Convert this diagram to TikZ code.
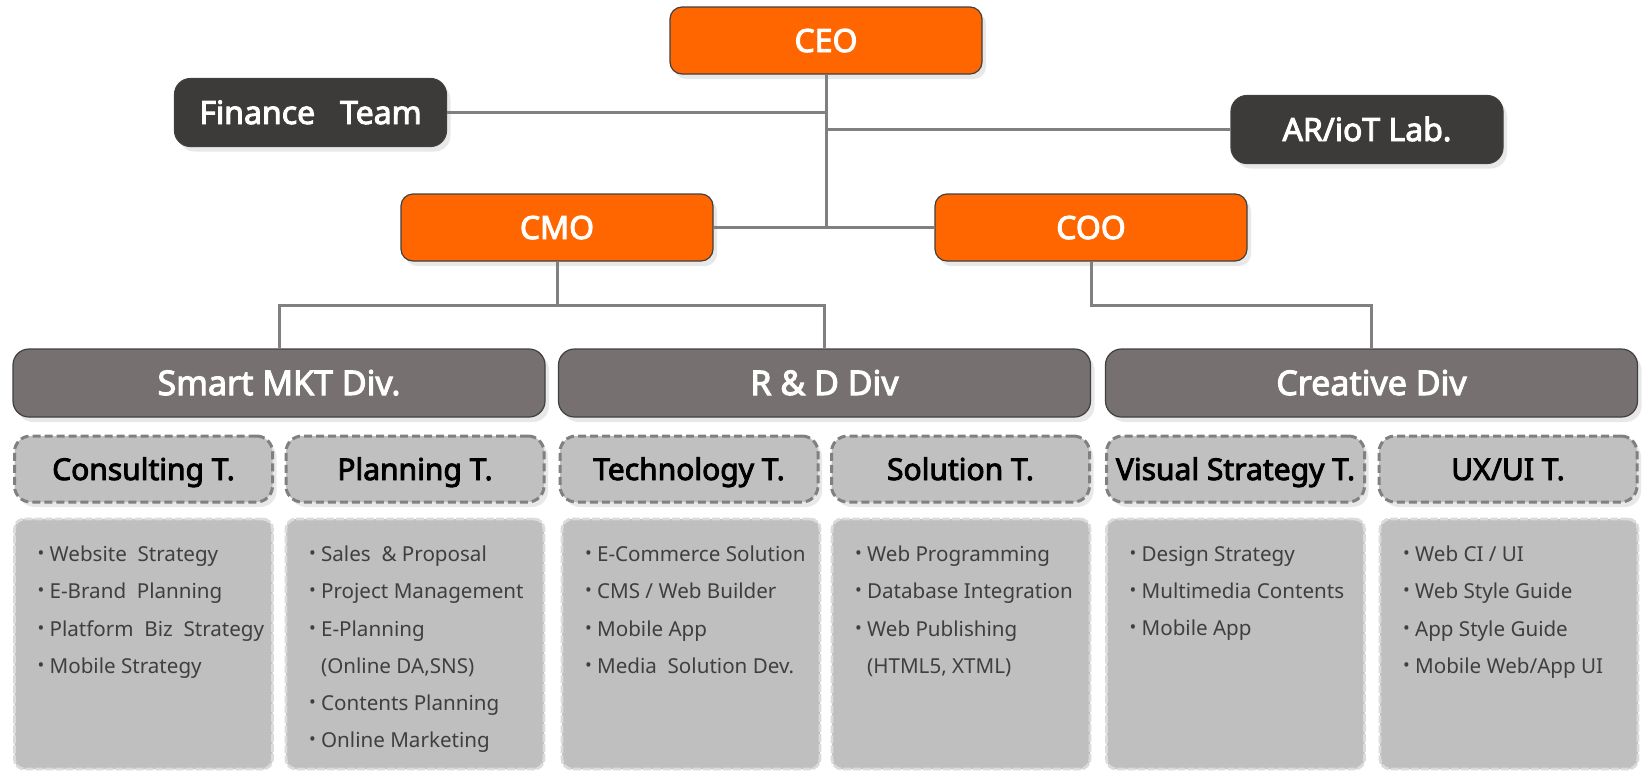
\documentclass[tikz,border=0pt]{standalone}
\usepackage{fontspec}
\setmainfont{Noto Sans}[BoldFont={Noto Sans},BoldFeatures={FakeBold=3}]
\usetikzlibrary{shadows}
\definecolor{orgfill}{HTML}{FF6600}
\definecolor{darkfill}{HTML}{3C3B39}
\definecolor{divfill}{HTML}{767170}
\definecolor{teamfill}{HTML}{C0C0C0}
\definecolor{listfill}{HTML}{BFBFBF}
\definecolor{linegray}{HTML}{808080}
\definecolor{edgegray}{HTML}{404040}
\definecolor{listtext}{HTML}{3F3F3F}
\newcommand{\itm}{{\fontsize{9}{9}\selectfont\raisebox{0.2ex}{\textbullet}}\ }

\begin{document}
\begin{tikzpicture}[x=0.5pt,y=-0.5pt,
    conn/.style={draw=linegray,line width=1.5pt},
    shade/.style={drop shadow={fill=black!9,opacity=1,shadow xshift=2pt,shadow yshift=-2.5pt}},
    boss/.style={draw=edgegray,line width=0.6pt,fill=orgfill,rounded corners=6pt,shade,
        text=white,font=\bfseries\fontsize{16}{19}\selectfont,minimum width=156pt,minimum height=33.5pt,
        text height=11.5pt,text depth=0pt},
    side/.style={draw=edgegray,line width=0.6pt,fill=darkfill,rounded corners=8pt,shade,
        text=white,font=\bfseries\fontsize{16}{19}\selectfont,minimum width=136pt,minimum height=34pt,
        text height=11.5pt,text depth=0pt},
    division/.style={draw=edgegray,line width=0.6pt,fill=divfill,rounded corners=8pt,shade,
        text=white,font=\bfseries\fontsize{17}{20}\selectfont,minimum width=266pt,minimum height=34pt,
        text height=12pt,text depth=0pt},
    team/.style={draw=linegray,line width=1.5pt,dashed,dash pattern=on 4pt off 2pt,fill=teamfill,
        rounded corners=8pt,shade,font=\bfseries\fontsize{15}{18}\selectfont,minimum width=129pt,minimum height=33pt,
        text height=11pt,text depth=0pt},
    listbox/.style={draw=black!14,line width=1.4pt,dash pattern=on 4pt off 1pt,fill=listfill,
        rounded corners=5pt,minimum width=129pt,minimum height=125pt},
    items/.style={anchor=north west,inner sep=0pt,align=left,text=listtext,
        font=\fontsize{10.3}{18.6}\selectfont}]
\useasboundingbox (0,0) rectangle (1650,772);

\node[boss] (ceo) at (826,40.5) {CEO};
\node[side] (fin) at (310.5,112.5) {Finance~~ Team};
\node[side] (lab) at (1367,129.5) {AR/ioT Lab.};
\node[boss] (cmo) at (557,227.5) {CMO};
\node[boss] (coo) at (1091,227.5) {COO};

\node[division] (mkt) at (279,383) {Smart MKT Div.};
\node[division] (rnd) at (824.5,383) {R \& D Div};
\node[division] (cre) at (1371.5,383) {Creative Div};

\node[team] (cons) at (143.5,469) {Consulting T.};
\node[team] (plan) at (415,469) {Planning T.};
\node[team] (tech) at (689,469) {Technology T.};
\node[team] (sol) at (960.5,469) {Solution T.};
\node[team] (vis) at (1235.5,469) {Visual Strategy T.};
\node[team] (ux) at (1508,469) {UX/UI T.};

\node[listbox] (consbox) at (143.5,644) {};
\node[listbox] (planbox) at (415,644) {};
\node[listbox] (techbox) at (691,644) {};
\node[listbox] (solbox) at (961,644) {};
\node[listbox] (visbox) at (1235.5,644) {};
\node[listbox] (uxbox) at (1509,644) {};

\node[items] (conslist) at (consbox.north west) [xshift=12pt,yshift=-14pt]
    {\itm Website~ Strategy\\ \itm E-Brand~ Planning\\ \itm Platform~ Biz~ Strategy\\ \itm Mobile Strategy};
\node[items] (planlist) at (planbox.north west) [xshift=12pt,yshift=-14pt]
    {\itm Sales~ \& Proposal\\ \itm Project Management\\ \itm E-Planning\\ \phantom{\itm}(Online DA,SNS)\\
     \itm Contents Planning\\ \itm Online Marketing};
\node[items] (techlist) at (techbox.north west) [xshift=12pt,yshift=-14pt]
    {\itm E-Commerce Solution\\ \itm CMS / Web Builder\\ \itm Mobile App\\ \itm Media~ Solution Dev.};
\node[items] (sollist) at (solbox.north west) [xshift=12pt,yshift=-14pt]
    {\itm Web Programming\\ \itm Database Integration\\ \itm Web Publishing\\ \phantom{\itm}(HTML5, XTML)};
\node[items] (vislist) at (visbox.north west) [xshift=12pt,yshift=-14pt]
    {\itm Design Strategy\\ \itm Multimedia Contents\\ \itm Mobile App};
\node[items] (uxlist) at (uxbox.north west) [xshift=12pt,yshift=-14pt]
    {\itm Web CI / UI\\ \itm Web Style Guide\\ \itm App Style Guide\\ \itm Mobile Web/App UI};

\coordinate (cmoj) at (cmo.south |- 0,305);
\coordinate (cooj) at (coo.south |- 0,305);
\draw[conn] (ceo.south) -- (ceo.south |- cmo.east);
\draw[conn] (fin) -- (fin -| ceo.south);
\draw[conn] (lab) -- (lab -| ceo.south);
\draw[conn] (cmo) -- (coo);
\draw[conn] (cmo.south) -- (cmoj);
\draw[conn] (mkt.north) |- (cmoj) -| (rnd.north);
\draw[conn] (coo.south) -- (cooj) -| (cre.north);
\end{tikzpicture}
\end{document}
